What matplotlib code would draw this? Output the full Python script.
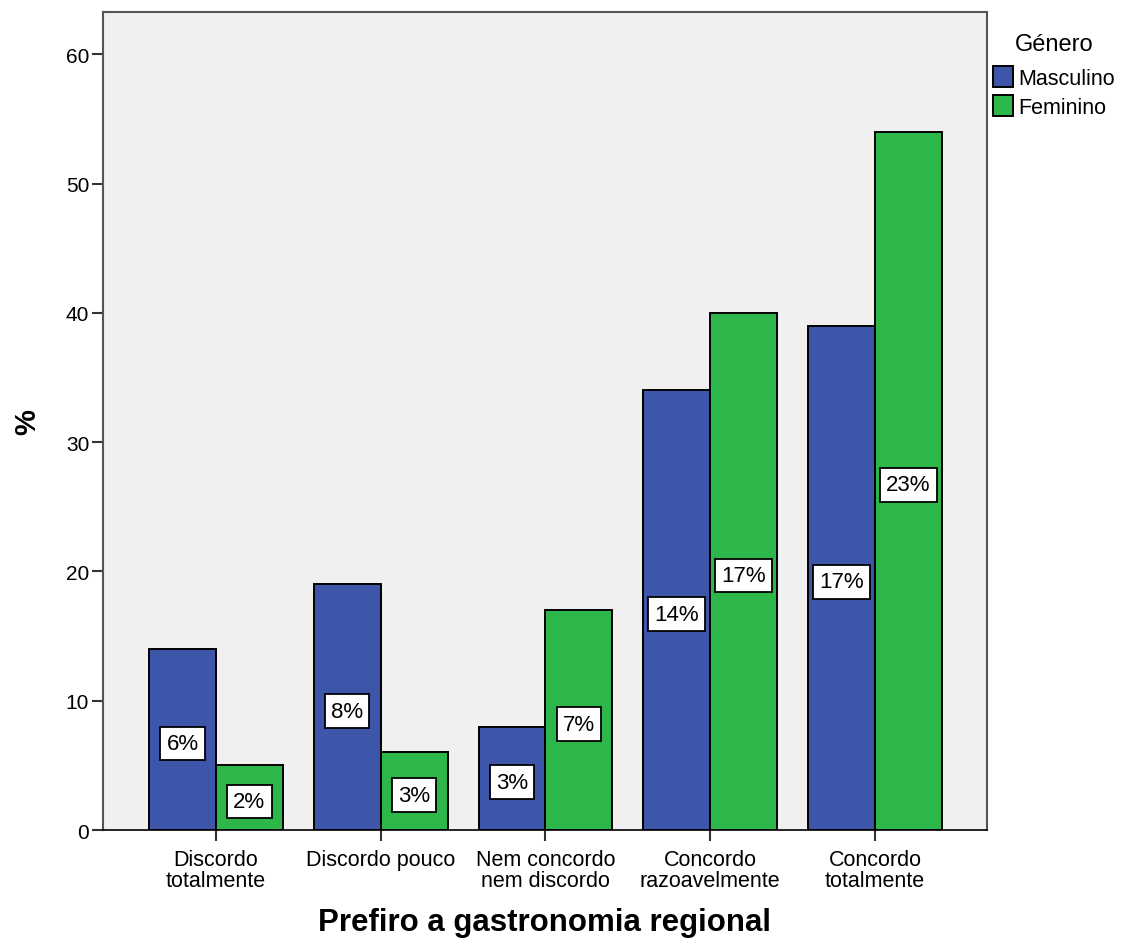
import matplotlib.pyplot as plt
import numpy as np

plt.rcParams['font.family'] = ['Liberation Sans', 'DejaVu Sans']

categorias = ["Discordo\ntotalmente", "Discordo pouco", "Nem concordo\nnem discordo",
              "Concordo\nrazoavelmente", "Concordo\ntotalmente"]
masculino = [14, 19, 8, 34, 39]
feminino = [5, 6, 17, 40, 54]
rot_masculino = ["6%", "8%", "3%", "14%", "17%"]
rot_feminino = ["2%", "3%", "7%", "17%", "23%"]

cor_m = "#3d56a9"
cor_f = "#2db74a"

fig = plt.figure(figsize=(11.26, 9.45), dpi=100)
ax = fig.add_axes([0.0915, 0.1206, 0.785, 0.8654])
ax.set_facecolor("#f0f0f0")

x = np.arange(len(categorias))
w = 0.406
b1 = ax.bar(x - w / 2, masculino, w, color=cor_m, edgecolor="black", linewidth=1.4, label="Masculino")
b2 = ax.bar(x + w / 2, feminino, w, color=cor_f, edgecolor="black", linewidth=1.4, label="Feminino")

caixa = dict(boxstyle="square,pad=0.28", facecolor="white", edgecolor="black", linewidth=1.3)
for bars, rots in ((b1, rot_masculino), (b2, rot_feminino)):
    for r, t in zip(bars, rots):
        ax.text(r.get_x() + r.get_width() / 2, r.get_height() / 2 - 0.3, t,
                ha="center", va="center", fontsize=16, bbox=caixa)

ax.set_xlim(-0.685, 4.68)
ax.set_ylim(0, 63.26)
ax.set_yticks([0, 10, 20, 30, 40, 50, 60])
ax.set_xticks(x)
ax.set_xticklabels(categorias, fontsize=15.5, linespacing=0.95)
ax.tick_params(axis="y", labelsize=15, length=8, width=1.5, colors="#333333", labelcolor="black", pad=2)
ax.tick_params(axis="x", length=8, width=1.5, colors="#333333", labelcolor="black", pad=6)

for s in ("top", "right", "left"):
    ax.spines[s].set_color("#555555")
    ax.spines[s].set_linewidth(1.5)
ax.spines["bottom"].set_color("black")
ax.spines["bottom"].set_linewidth(1.2)

ax.set_ylabel("%", fontsize=21, fontweight="bold", labelpad=18)
ax.set_xlabel("Prefiro a gastronomia regional", fontsize=22.5, fontweight="bold", labelpad=12)

leg = ax.legend(loc="upper left", bbox_to_anchor=(0.995, 0.988), frameon=False, title="Género",
                fontsize=15.5, title_fontsize=17, handlelength=0.9, handleheight=1.1,
                handletextpad=0.25, labelspacing=0.3, borderaxespad=0.2, borderpad=0.3)
leg._legend_box.align = "center"
leg._legend_box.sep = 8

fig.savefig("out.png", dpi=100)
